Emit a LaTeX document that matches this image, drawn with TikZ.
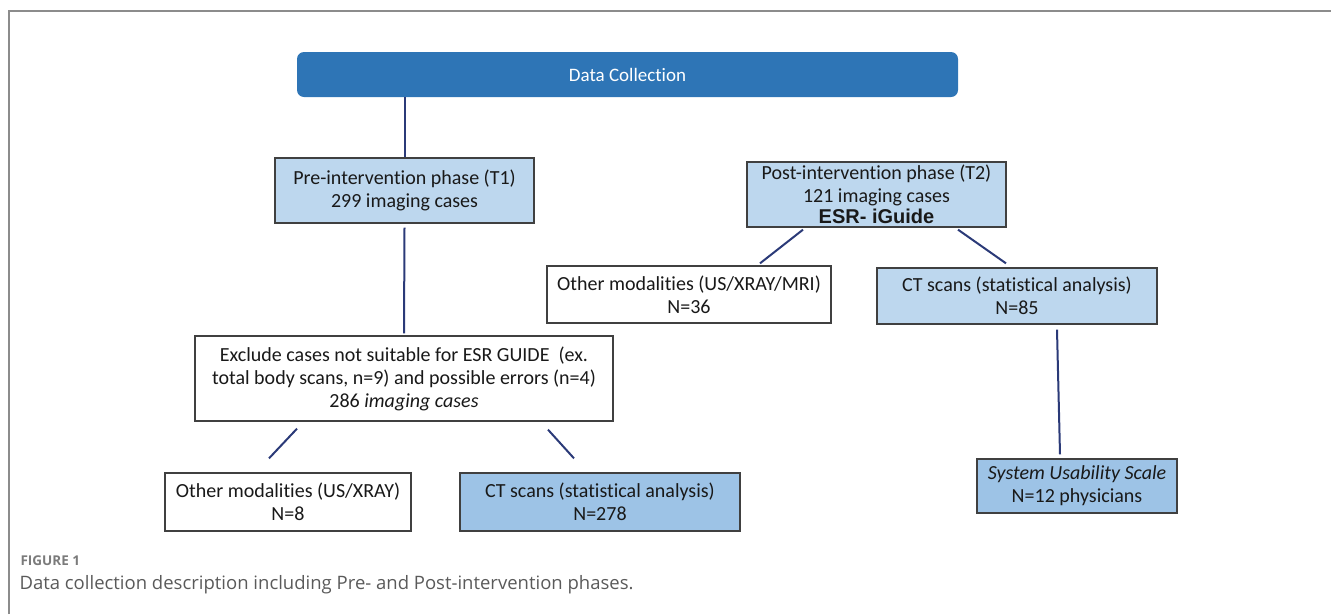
\documentclass[tikz,border=0pt]{standalone}
\usepackage{fontspec}
\setmainfont[Ligatures=NoCommon]{Carlito}
\newfontfamily\arialfont{Liberation Sans}
\newfontfamily\capfont{Open Sans}
\usetikzlibrary{calc}
\definecolor{headblue}{HTML}{2E75B6}
\definecolor{paleblue}{HTML}{BDD7EE}
\definecolor{midblue}{HTML}{9DC3E6}
\definecolor{linknavy}{HTML}{2B3A78}
\definecolor{boxedge}{HTML}{404040}
\definecolor{framegray}{HTML}{8C8C8C}
\definecolor{capgray}{HTML}{5A5A5A}
\tikzset{
  box/.style={draw=boxedge, line width=1.3pt, align=center, inner sep=0pt,
    font=\fontsize{20}{23}\selectfont, text=black!90},
  palebox/.style={box, fill=paleblue},
  midbox/.style={box, fill=midblue},
  plainbox/.style={box, fill=white},
  link/.style={draw=linknavy, line width=2pt},
}
\begin{document}
\begin{tikzpicture}[x=1pt,y=-1pt]
\useasboundingbox (0,0) rectangle (1331,614);
% outer frame (top and left edges)
\draw[framegray, line width=1.5pt] (9,614) -- (9,11) -- (1331,11);

% header
\node[fill=headblue, rounded corners=7pt, minimum width=661pt, minimum height=45pt,
      text=white, font=\fontsize{19}{22}\selectfont] (dc) at (627.5,74.5) {Data Collection};

% pre-intervention branch
\node[palebox, minimum width=259pt, minimum height=65pt] (pre) at (404.5,190.5)
  {Pre-intervention phase (T1)\\299 imaging cases};
\node[plainbox, minimum width=418pt, minimum height=85pt] (excl) at (404,378.5)
  {Exclude cases not suitable for ESR GUIDE~ (ex.\\total body scans, n=9) and possible errors (n=4)\\286 \textit{imaging cases}};
\node[plainbox, minimum width=246pt, minimum height=58pt] (oth8) at (288,502)
  {Other modalities (US/XRAY)\\N=8};
\node[midbox, minimum width=280pt, minimum height=58pt] (ct278) at (600,502)
  {CT scans (statistical analysis)\\N=278};

% post-intervention branch
\node[palebox, minimum width=259pt, minimum height=65pt] (post) at (876.5,194.5)
  {Post-intervention phase (T2)\\121 imaging cases\\[-2pt]{\arialfont\bfseries\fontsize{20}{22}\selectfont ESR- iGuide}};
\node[plainbox, minimum width=284pt, minimum height=57pt] (othmri) at (689,294.5)
  {Other modalities (US/XRAY/MRI)\\N=36};
\node[palebox, minimum width=280pt, minimum height=56pt] (ct85) at (1017,296)
  {CT scans (statistical analysis)\\N=85};
\node[midbox, minimum width=200pt, minimum height=54pt] (sus) at (1077,486)
  {\textit{System Usability Scale}\\N=12 physicians};

% connectors
\draw[link] (pre.north |- dc.south) -- (pre.north);
\draw[link] ($(post.north)+(-19.5,0)$ |- dc.south) -- ($(post.north)+(-19.5,0)$);
\draw[link] ($(pre.south)+(0,4)$) -- ($(excl.north)+(0,-2)$);
\draw[link] ($(excl.south)+(-107,7)$) -- ($(oth8.north)+(-19,-14)$);
\draw[link] ($(excl.south)+(144,8)$) -- ($(ct278.north)+(-26,-14)$);
\draw[link] ($(post.south)+(-73.5,2)$) -- ($(othmri.north)+(71,-2)$);
\draw[link] ($(post.south)+(81.5,2)$) -- ($(ct85.north)+(-11,-4)$);
\draw[link] ($(ct85.south)+(40,5)$) -- ($(sus.north)+(-17,-4)$);

% caption
\node[anchor=west, text=capgray!80, font=\capfont\bfseries\fontsize{13.5}{16}\selectfont] (figlabel) at (17,561) {FIGURE 1};
\node[anchor=west, text=capgray, font=\capfont\fontsize{18.5}{22}\selectfont] (caption) at (16,585)
  {Data collection description including Pre- and Post-intervention phases.};
\end{tikzpicture}
\end{document}
